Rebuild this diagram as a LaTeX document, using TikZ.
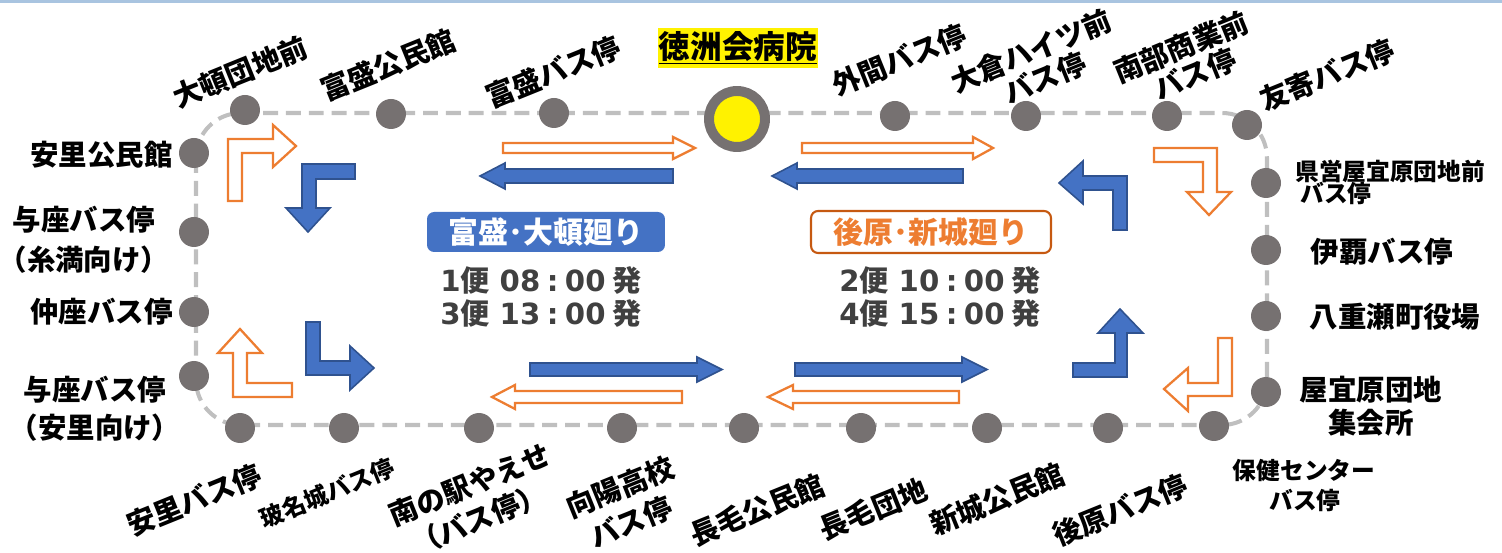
\documentclass[tikz,border=0pt]{standalone}
\usepackage{fontspec}
\setmainfont{Noto Sans CJK JP}
\newfontfamily\djv{DejaVu Sans}
\definecolor{dotgray}{HTML}{767171}
\definecolor{routegray}{HTML}{BFBFBF}
\definecolor{pblue}{HTML}{4472C4}
\definecolor{pbluedark}{HTML}{2F528F}
\definecolor{porange}{HTML}{ED7D31}
\definecolor{porangedark}{HTML}{C65911}
\definecolor{txtgray}{HTML}{404040}
\definecolor{topblue}{HTML}{A9C4E0}
\newcommand{\tline}[4]{{\djv #1}#2\hspace{0.2cm}{\djv #3\hspace{0.13cm}:\hspace{0.13cm}00}\hspace{0.14cm}#4}
\begin{document}
\begin{tikzpicture}[x=0.02cm,y=-0.02cm,
  route/.style={draw=routegray,line width=2.3pt,dash pattern=on 8.5pt off 4.5pt},
  stop/.style={circle,fill=dotgray,minimum size=0.6cm,inner sep=0pt},
  lbl/.style={font=\fontsize{16.2pt}{19pt}\selectfont\bfseries,inner sep=0pt,text=black},
  slbl/.style={font=\fontsize{13.5pt}{16pt}\selectfont\bfseries,inner sep=0pt,text=black},
  rl/.style={rotate=22},
  barrow/.style={fill=pblue,draw=pbluedark,line width=0.9pt,line join=miter},
  oarrow/.style={fill=white,draw=porange,line width=1.3pt,line join=miter},
  times/.style={font=\fontsize{16.6pt}{19.3pt}\selectfont\bfseries,text=txtgray,align=center,inner sep=0pt}
]
\useasboundingbox (0,0) rectangle (1502,553);
\fill[topblue] (0,0) rectangle (1502,3);

% route
\draw[route,rounded corners=0.9cm] (196,113) rectangle (1267,425);

% stops top
\node[stop] (s1) at (245,110) {};
\node[stop] (s2) at (391,114) {};
\node[stop] (s3) at (554,113) {};
\node[circle,fill=yellow,draw=dotgray,line width=5.67pt,minimum size=1.12cm,inner sep=0pt] (hosp) at (737,119) {};
\node[stop] (s5) at (895,116) {};
\node[stop] (s6) at (1026,116) {};
\node[stop] (s7) at (1167,116) {};
\node[stop] (s8) at (1247,125) {};
% right
\node[stop] (s9) at (1266,183) {};
\node[stop] (s10) at (1266,250) {};
\node[stop] (s11) at (1266,316) {};
\node[stop] (s12) at (1266,392) {};
% bottom
\node[stop] (s13) at (1214,426) {};
\node[stop] (s14) at (1108,428) {};
\node[stop] (s15) at (987,428) {};
\node[stop] (s16) at (861,428) {};
\node[stop] (s17) at (744,428) {};
\node[stop] (s18) at (622,428) {};
\node[stop] (s19) at (479,428) {};
\node[stop] (s20) at (344,428) {};
\node[stop] (s21) at (240,428) {};
% left
\node[stop] (s22) at (194,376) {};
\node[stop] (s23) at (194,312) {};
\node[stop] (s24) at (194,232) {};
\node[stop] (s25) at (194,153) {};

% hospital label
\node[fill=yellow,minimum width=3.2cm,minimum height=0.8cm,inner sep=0pt,
  font=\fontsize{18pt}{20pt}\selectfont\bfseries] (hlbl) at (738,48) {\underline{徳洲会病院}};

% top labels
\node[lbl,rl] (l1) at (240,72) {大頓団地前};
\node[lbl,rl] (l2) at (388,65) {富盛公民館};
\node[lbl,rl] (l3) at (553,72) {富盛バス停};
\node[lbl,rl] (l5) at (899,60) {外間バス停};
\node[lbl,rl] (l6a) at (1031,51) {大倉ハイツ前};
\node[lbl,rl] (l6b) at (1045,78) {バス停};
\node[lbl,rl] (l7a) at (1181,47) {南部商業前};
\node[lbl,rl] (l7b) at (1195,74) {バス停};
\node[lbl,rl] (l8) at (1327,75) {友寄バス停};

% right labels
\node[slbl,anchor=west] (l9a) at (1295,171) {県営屋宜原団地前};
\node[slbl,anchor=west] (l9b) at (1300,193) {バス停};
\node[lbl] (l10) at (1382,252) {伊覇バス停};
\node[lbl] (l11) at (1395,317) {八重瀬町役場};
\node[lbl] (l12a) at (1371,390) {屋宜原団地};
\node[lbl] (l12b) at (1371,423) {集会所};

% bottom labels
\node[slbl] (l13a) at (1304,471) {保健センター};
\node[slbl] (l13b) at (1305,500) {バス停};
\node[lbl,rl] (l14) at (1120,510) {後原バス停};
\node[lbl,rl] (l15) at (997,499) {新城公民館};
\node[lbl,rl] (l16) at (873,509) {長毛団地};
\node[lbl,rl] (l17) at (757,510) {長毛公民館};
\node[lbl,rl] (l18a) at (620,487) {向陽高校};
\node[lbl,rl] (l18b) at (631,522) {バス停};
\node[lbl,rl] (l19a) at (470,485) {南の駅やえせ};
\node[lbl,rl] (l19b) at (479,519) {（バス停）};
\node[slbl,rl] (l20) at (327,493) {玻名城バス停};
\node[lbl,rl] (l21) at (194,500) {安里バス停};

% left labels
\node[lbl,anchor=east] (l25) at (173,155) {安里公民館};
\node[lbl] (l24a) at (84,220) {与座バス停};
\node[lbl] (l24b) at (84,260) {（糸満向け）};
\node[lbl,anchor=east] (l23) at (173,312) {仲座バス停};
\node[lbl] (l22a) at (95,390) {与座バス停};
\node[lbl] (l22b) at (95,428) {（安里向け）};

% route titles
\node[fill=pblue,rounded corners=4pt,minimum width=4.76cm,minimum height=0.8cm,inner sep=0pt,
  text=white,font=\fontsize{17pt}{19pt}\selectfont\bfseries] (t1) at (546,232) {富盛･大頓廻り};
\node[fill=white,draw=porangedark,line width=1.2pt,rounded corners=4pt,minimum width=4.8cm,minimum height=0.84cm,inner sep=0pt,
  text=porange,font=\fontsize{17pt}{19pt}\selectfont\bfseries] (t2) at (931,232) {後原･新城廻り};
\node[times] (tm1) at (541,297) {\tline{1}{便}{08}{発}\\\tline{3}{便}{13}{発}};
\node[times] (tm2) at (940,297) {\tline{2}{便}{10}{発}\\\tline{4}{便}{15}{発}};

% straight arrows top
\draw[oarrow] (503,143) -- (673,143) -- (673,137) -- (695,148) -- (673,159) -- (673,153) -- (503,153) -- cycle;
\draw[oarrow] (802,143) -- (973,143) -- (973,137) -- (993,148) -- (973,159) -- (973,153) -- (802,153) -- cycle;
\draw[barrow] (673,169) -- (505,169) -- (505,163) -- (480,176) -- (505,189) -- (505,183) -- (673,183) -- cycle;
\draw[barrow] (963,169) -- (797,169) -- (797,163) -- (772,176) -- (797,189) -- (797,183) -- (963,183) -- cycle;
% straight arrows bottom
\draw[barrow] (530,363) -- (697,363) -- (697,357) -- (722,369.5) -- (697,382) -- (697,376) -- (530,376) -- cycle;
\draw[barrow] (795,363) -- (962,363) -- (962,357) -- (987,369.5) -- (962,382) -- (962,376) -- (795,376) -- cycle;
\draw[oarrow] (682,391) -- (515,391) -- (515,385) -- (492,397) -- (515,409) -- (515,403) -- (682,403) -- cycle;
\draw[oarrow] (959,391) -- (793,391) -- (793,385) -- (768,397) -- (793,409) -- (793,403) -- (959,403) -- cycle;

% bent arrows
\draw[oarrow] (228,201) -- (228,139) -- (273,139) -- (273,125) -- (296,146) -- (273,167) -- (273,153) -- (242,153) -- (242,201) -- cycle;
\draw[barrow] (355,164) -- (302,164) -- (302,208) -- (286,208) -- (308,232) -- (330,208) -- (316,208) -- (316,179) -- (355,179) -- cycle;
\draw[oarrow] (240,329) -- (262,353) -- (247,353) -- (247,383) -- (292,383) -- (292,397) -- (233,397) -- (233,353) -- (218,353) -- cycle;
\draw[barrow] (306,322) -- (320,322) -- (320,361) -- (350,361) -- (350,346) -- (374,368) -- (350,390) -- (350,375) -- (306,375) -- cycle;
\draw[barrow] (1059,183) -- (1083,161) -- (1083,176) -- (1127,176) -- (1127,230) -- (1113,230) -- (1113,190) -- (1083,190) -- (1083,204) -- cycle;
\draw[oarrow] (1154,148) -- (1217,148) -- (1217,192) -- (1231,192) -- (1209,215) -- (1187,192) -- (1203,192) -- (1203,162) -- (1154,162) -- cycle;
\draw[barrow] (1120,309) -- (1143,333) -- (1127,333) -- (1127,377) -- (1073,377) -- (1073,363) -- (1115,363) -- (1115,333) -- (1098,333) -- cycle;
\draw[oarrow] (1218,338) -- (1232,338) -- (1232,396) -- (1188,396) -- (1188,411) -- (1164,389) -- (1188,368) -- (1188,383) -- (1218,383) -- cycle;
\end{tikzpicture}
\end{document}
